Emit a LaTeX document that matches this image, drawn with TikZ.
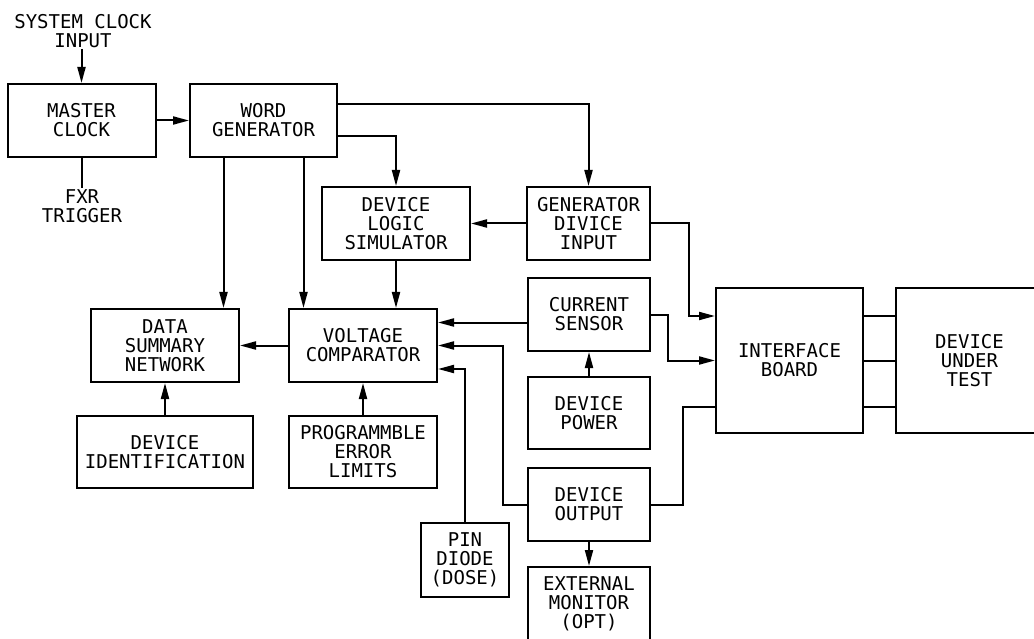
\documentclass[tikz,border=0pt]{standalone}
\usepackage{fontspec}
\usepackage{tikz}
\usetikzlibrary{arrows.meta}
\newfontfamily\blockfont{DejaVu Sans Mono}
\definecolor{TSInk}{HTML}{000000}

\begin{document}
\begin{tikzpicture}[x=1pt,y=-1pt,
  blk/.style={draw=TSInk,line width=2pt,rectangle,inner sep=0pt,align=center,
    font=\blockfont\fontsize{19}{19}\selectfont},
  lbl/.style={inner sep=1pt,align=center,font=\blockfont\fontsize{19}{19}\selectfont},
  wire/.style={draw=TSInk,line width=2pt},
  arr/.style={wire,-{Triangle[length=16pt,width=8pt]}}]
\path[use as bounding box] (0,0) rectangle (1034,639);
\clip (0,0) rectangle (1034,639);
\node[lbl] (sci) at (83,31) {SYSTEM CLOCK\\INPUT};
\node[lbl] (fxr) at (82,206) {FXR\\TRIGGER};
\node[blk,minimum width=148,minimum height=73] (mclk) at (81.5,120.5) {MASTER\\CLOCK};
\node[blk,minimum width=147,minimum height=73] (wgen) at (263.5,120.5) {WORD\\GENERATOR};
\node[blk,minimum width=148,minimum height=73] (dls) at (396,223.5) {DEVICE\\LOGIC\\SIMULATOR};
\node[blk,minimum width=123,minimum height=73] (gdi) at (588.5,223.5) {GENERATOR\\DIVICE\\INPUT};
\node[blk,minimum width=122,minimum height=73] (cs) at (589,314.5) {CURRENT\\SENSOR};
\node[blk,minimum width=122,minimum height=72] (dpow) at (589,413) {DEVICE\\POWER};
\node[blk,minimum width=122,minimum height=73] (dout) at (589,504.5) {DEVICE\\OUTPUT};
\node[blk,minimum width=122,minimum height=73] (extmon) at (589,603.5) {EXTERNAL\\MONITOR\\(OPT)};
\node[blk,minimum width=148,minimum height=73] (vcomp) at (363,345.5) {VOLTAGE\\COMPARATOR};
\node[blk,minimum width=148,minimum height=73] (dsn) at (165,345.5) {DATA\\SUMMARY\\NETWORK};
\node[blk,minimum width=176,minimum height=72] (devid) at (165,452) {DEVICE\\IDENTIFICATION};
\node[blk,minimum width=148,minimum height=72] (pel) at (363,452) {PROGRAMMBLE\\ERROR\\LIMITS};
\node[blk,minimum width=88,minimum height=74] (pin) at (465,560) {PIN\\DIODE\\(DOSE)};
\node[blk,minimum width=147,minimum height=145] (ifb) at (789.5,360.5) {INTERFACE\\BOARD};
\node[blk,minimum width=147,minimum height=145] (dut) at (969.5,360.5) {DEVICE\\UNDER\\TEST};
\draw[arr] (sci.south -| mclk.north) -- (mclk.north);
\draw[wire] (mclk.south) -- (mclk.south |- fxr.north);
\draw[arr] (mclk.east) -- (wgen.west);
\draw[arr] ([yshift=16pt]wgen.east) -| (gdi.north);
\draw[arr] ([yshift=-16pt]wgen.east) -| (dls.north);
\draw[arr] ([xshift=-40pt]wgen.south) -- ([xshift=-40pt]wgen.south |- dsn.north);
\draw[arr] ([xshift=40pt]wgen.south) -- ([xshift=40pt]wgen.south |- vcomp.north);
\draw[arr] (dls.south) -- (dls.south |- vcomp.north);
\draw[arr] (gdi.west) -- (dls.east);
\draw[arr] (gdi.east) -- ++(38,0) |- ([yshift=44.5pt]ifb.west);
\draw[arr] (cs.east) -- ++(17,0) |- (ifb.west);
\draw[wire] (dout.east) -- ++(32,0) |- ([yshift=-46.5pt]ifb.west);
\draw[wire] ([yshift=44.5pt]ifb.east) -- ([yshift=44.5pt]dut.west);
\draw[wire] (ifb.east) -- (dut.west);
\draw[wire] ([yshift=-46.5pt]ifb.east) -- ([yshift=-46.5pt]dut.west);
\draw[arr] (dpow.north) -- (cs.south);
\draw[arr] (dout.south) -- (extmon.north);
\draw[arr] ([yshift=-8pt]cs.west) -- ([yshift=-8pt]cs.west -| vcomp.east);
\draw[arr] (dout.west) -- ++(-24,0) |- (vcomp.east);
\draw[arr] (pin.north) |- ([yshift=-23.5pt]vcomp.east);
\draw[arr] (vcomp.west) -- (dsn.east);
\draw[arr] (devid.north) -- (dsn.south);
\draw[arr] (pel.north) -- (vcomp.south);
\end{tikzpicture}
\end{document}
